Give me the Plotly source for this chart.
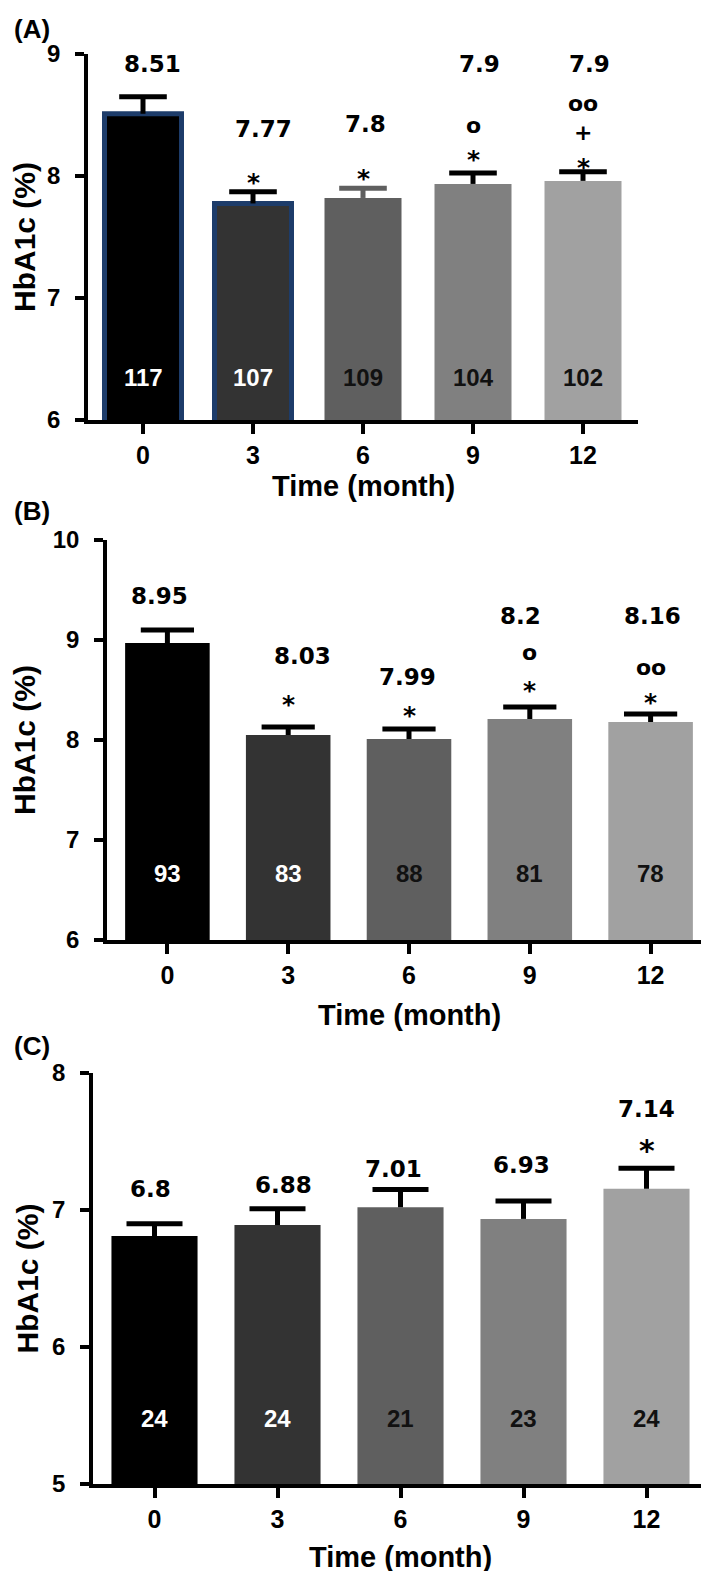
import plotly.graph_objects as go

W, H = 709, 1571

# ---------------- data ----------------
months = ["0", "3", "6", "9", "12"]

a_mean = [8.51, 7.775, 7.82, 7.935, 7.96]
a_sem = [0.14, 0.095, 0.08, 0.09, 0.075]
a_n = ["117", "107", "109", "104", "102"]
a_text = ["8.51", "7.77", "7.8", "7.9", "7.9"]
a_sig = [[], ["*"], ["*"], ["*", "o"], ["*", "+", "oo"]]

b_mean = [8.97, 8.05, 8.01, 8.21, 8.18]
b_sem = [0.13, 0.08, 0.10, 0.12, 0.08]
b_n = ["93", "83", "88", "81", "78"]
b_text = ["8.95", "8.03", "7.99", "8.2", "8.16"]
b_sig = [[], ["*"], ["*"], ["*", "o"], ["*", "oo"]]

c_mean = [6.81, 6.89, 7.02, 6.935, 7.155]
c_sem = [0.09, 0.12, 0.13, 0.13, 0.15]
c_n = ["24", "24", "21", "23", "24"]
c_text = ["6.8", "6.88", "7.01", "6.93", "7.14"]
c_sig = [[], [], [], [], ["*"]]

y_ticks_a = [6, 7, 8, 9]
y_ticks_b = [6, 7, 8, 9, 10]
y_ticks_c = [5, 6, 7, 8]

# ---------------- styles / layout positions ----------------
fills = ["#000000", "#333333", "#5f5f5f", "#808080", "#a1a1a1"]
n_colors = ["#ffffff", "#ffffff", "#111111", "#111111", "#111111"]

panels = [
    dict(mean=a_mean, sem=a_sem, n=a_n, text=a_text, sig=a_sig, ticks=y_ticks_a,
         rng=[6, 9], x_px=(80, 630), y_px=(412, 46), tag="(A)", tag_y=21,
         xtitle_y=478, ytitle_x=17, cap=34,
         text_y=[8.918, 8.385, 8.426, 8.918, 8.918],
         sig_y=[[], [8.0], [8.035], [8.19, 8.41], [8.125, 8.357, 8.595]],
         n_y=6.35, border=[5, 5, 0, 0, 0],
         err_col=["#000000", "#000000", "#5f5f5f", "#000000", "#000000"],
         text_dx=[9, 10, 2, 6, 6]),
    dict(mean=b_mean, sem=b_sem, n=b_n, text=b_text, sig=b_sig, ticks=y_ticks_b,
         rng=[6, 10], x_px=(99, 703), y_px=(932, 532), tag="(B)", tag_y=503,
         xtitle_y=1007, ytitle_x=17, cap=38,
         text_y=[9.436, 8.84, 8.63, 9.24, 9.24],
         sig_y=[[], [8.42], [8.31], [8.56, 8.87], [8.44, 8.72]],
         n_y=6.66, border=[0, 0, 0, 0, 0],
         err_col=["#000000"] * 5,
         text_dx=[-8, 14, -2, -9, 2]),
    dict(mean=c_mean, sem=c_sem, n=c_n, text=c_text, sig=c_sig, ticks=y_ticks_c,
         rng=[5, 8], x_px=(85, 700), y_px=(1476, 1065), tag="(C)", tag_y=1038,
         xtitle_y=1549, ytitle_x=19, cap=40,
         text_y=[7.155, 7.18, 7.30, 7.33, 7.74],
         sig_y=[[], [], [], [], [7.50]],
         n_y=5.48, border=[0, 0, 0, 0, 0],
         err_col=["#000000"] * 5,
         text_dx=[-4, 6, -7, -2, 0]),
]

NUM_FONT = "DejaVu Sans"
LAB_FONT = "Liberation Sans, Arial, sans-serif"

fig = go.Figure()
annotations = []
idx = list(range(len(months)))

for i, p in enumerate(panels):
    k = "" if i == 0 else str(i + 1)
    xa, ya = "x" + k, "y" + k
    for j in idx:
        # bar
        fig.add_trace(go.Bar(
            x=[j], y=[p["mean"][j]], xaxis=xa, yaxis=ya, width=0.7,
            marker=dict(color=fills[j],
                        line=dict(color="#1d3c6a", width=p["border"][j])),
            showlegend=False, hoverinfo="skip"))
        # one-sided error bar: stem (error_y without caps) + cap marker at the top
        fig.add_trace(go.Scatter(
            x=[j], y=[p["mean"][j] + p["sem"][j]], xaxis=xa, yaxis=ya, mode="markers",
            marker=dict(symbol="line-ew", size=p["cap"], color=p["err_col"][j],
                        line=dict(color=p["err_col"][j], width=5)),
            error_y=dict(type="data", symmetric=False, array=[0], arrayminus=[p["sem"][j]],
                         color=p["err_col"][j], thickness=5, width=0),
            showlegend=False, hoverinfo="skip", cliponaxis=False))
        # mean value label
        annotations.append(dict(x=j, y=p["text_y"][j], xref=xa, yref=ya, text=p["text"][j],
                                showarrow=False, xshift=p["text_dx"][j],
                                font=dict(family=NUM_FONT, size=23, color="#000000", weight="bold")))
        # significance marks
        for s, sy in zip(p["sig"][j], p["sig_y"][j]):
            big = (i == 2)
            annotations.append(dict(x=j, y=sy, xref=xa, yref=ya, text=s, showarrow=False,
                                    yshift=(-7 if s == "*" else 0) - (2 if big and s == "*" else 0),
                                    font=dict(family=NUM_FONT,
                                              size=(30 if big else 25) if s == "*" else 22,
                                              color="#000000", weight="bold")))
        # n label
        annotations.append(dict(x=j, y=p["n_y"], xref=xa, yref=ya, text=p["n"][j],
                                showarrow=False,
                                font=dict(family=LAB_FONT, size=24, color=n_colors[j], weight="bold")))

    x0, x1 = p["x_px"]
    yb, yt = p["y_px"]
    fig.update_layout(**{
        ("xaxis" + k): dict(domain=[x0 / W, x1 / W], anchor=ya, automargin=False,
                            range=[-0.5, 4.5], tickvals=idx, ticktext=months,
                            showline=True, linecolor="#000000", linewidth=3.5,
                            ticks="outside", ticklen=10, tickwidth=3.5, tickcolor="#000000",
                            showgrid=False, zeroline=False,
                            tickfont=dict(family=LAB_FONT, size=25, color="#000000", weight="bold")),
        ("yaxis" + k): dict(domain=[1 - yb / H, 1 - yt / H], anchor=xa, automargin=False,
                            range=p["rng"], tickvals=p["ticks"],
                            showline=True, linecolor="#000000", linewidth=3.5,
                            ticks="outside", ticklen=9, tickwidth=3.5, tickcolor="#000000",
                            showgrid=False, zeroline=False, ticklabelstandoff=10,
                            tickfont=dict(family=LAB_FONT, size=24, color="#000000", weight="bold")),
    })
    # axis titles and panel tag
    annotations.append(dict(x=(x0 + x1) / 2 / W, y=1 - p["xtitle_y"] / H, xref="paper", yref="paper",
                            text="Time (month)", showarrow=False, xanchor="center", yanchor="middle",
                            font=dict(family=LAB_FONT, size=29, color="#000000", weight="bold")))
    annotations.append(dict(x=p["ytitle_x"] / W, y=1 - (yb + yt) / 2 / H, xref="paper", yref="paper",
                            text="HbA1c (%)", showarrow=False, textangle=-90,
                            xanchor="center", yanchor="middle",
                            font=dict(family=LAB_FONT, size=30, color="#000000", weight="bold")))
    annotations.append(dict(x=24 / W, y=1 - p["tag_y"] / H, xref="paper", yref="paper",
                            text=p["tag"], showarrow=False, xanchor="center", yanchor="middle",
                            font=dict(family=LAB_FONT, size=26, color="#000000", weight="bold")))

fig.update_layout(width=W, height=H, margin=dict(l=0, r=0, t=0, b=0, pad=0, autoexpand=False),
                  paper_bgcolor="#ffffff", plot_bgcolor="#ffffff",
                  barmode="overlay", annotations=annotations)

fig.write_html("out.html")
